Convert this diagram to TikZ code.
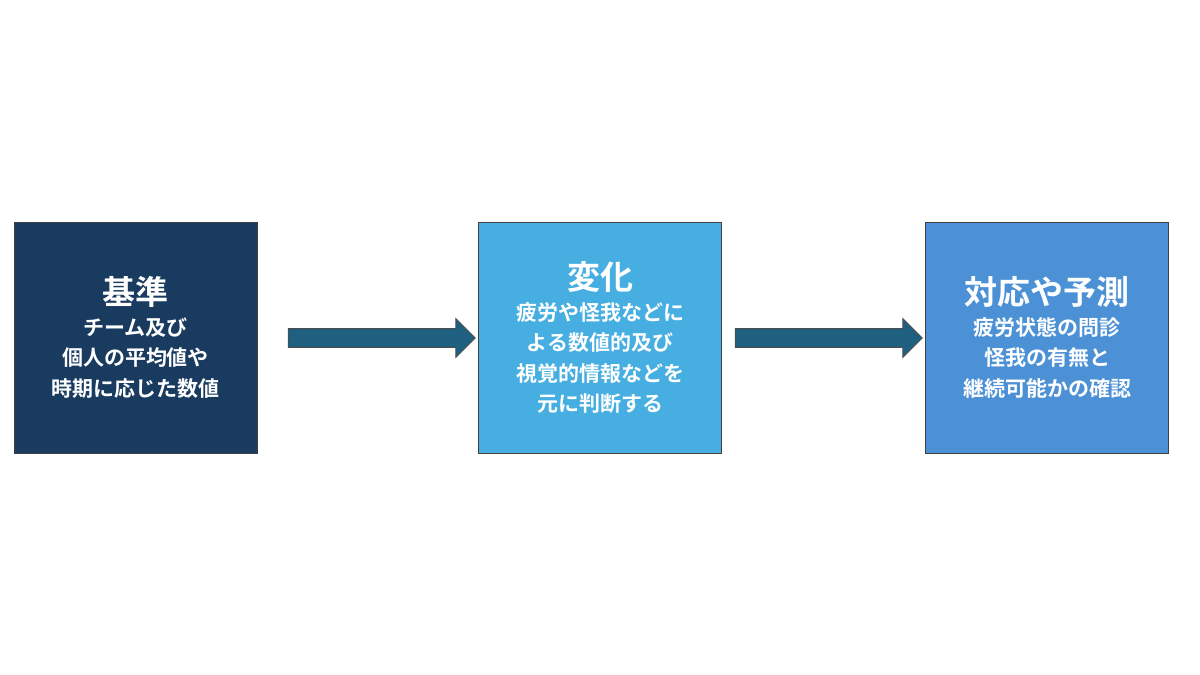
\documentclass[tikz,border=0pt]{standalone}
\usepackage{fontspec}
\setmainfont{Noto Sans CJK JP}[BoldFont={* Bold}]
\usetikzlibrary{shapes.arrows}
\definecolor{c1}{HTML}{193B5F}
\definecolor{c2}{HTML}{46AEE0}
\definecolor{c3}{HTML}{4C91D6}
\definecolor{ca}{HTML}{1F5F80}
\begin{document}
\begin{tikzpicture}[x=1pt,y=-1pt,
 box/.style={draw=black!75,line width=1pt,minimum width=243pt,minimum height=231pt,inner sep=0pt,text=white,font=\bfseries\fontsize{21}{30.5}\selectfont,align=center},
 arr/.style={single arrow,draw=black!70,fill=ca,line width=0.8pt,minimum height=187pt,inner xsep=0pt,inner ysep=9pt,text height=0pt,text depth=0pt,single arrow head extend=10pt,single arrow tip angle=90}]
\useasboundingbox (0,0) rectangle (1200,675);
\node[box,fill=c1] (b1) at (135.5,337.5) {{\fontsize{33}{42}\selectfont 基準}\\チーム及び\\個人の平均値や\\時期に応じた数値};
\node[box,fill=c2] (b2) at (600,337.5) {{\fontsize{33}{40}\selectfont 変化}\\疲労や怪我などに\\よる数値的及び\\視覚的情報などを\\元に判断する};
\node[box,fill=c3] (b3) at (1047,337.5) {{\fontsize{33}{42}\selectfont 対応や予測}\\疲労状態の問診\\怪我の有無と\\継続可能かの確認};
\node[arr] (a1) at (377,338) {};
\node[arr] (a2) at (824,338) {};
\end{tikzpicture}
\end{document}
